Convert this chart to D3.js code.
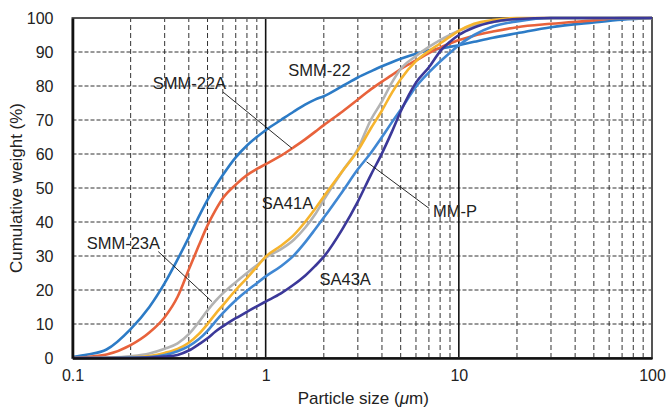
<!DOCTYPE html>
<html>
<head>
<meta charset="utf-8">
<script src="https://cdn.jsdelivr.net/npm/d3@7/dist/d3.min.js"></script>
<style>
  body { margin: 0; background: #fff; }
  text { font-family: "Liberation Sans", Arial, sans-serif; fill: #222; }
</style>
</head>
<body>
<div id="chart"></div>
<script>
// particle size grid (um) shared by all curves
var sizes = [0.1, 0.12, 0.15, 0.2, 0.25, 0.3, 0.35, 0.4, 0.45, 0.5, 0.55, 0.6, 0.7, 0.8, 0.9,
  1, 1.2, 1.4, 1.6, 1.8, 2, 2.5, 3, 3.5, 4, 4.5, 5, 6, 7, 8, 9,
  10, 12, 15, 20, 30, 50, 70, 100];

var smm22  = [0.3, 1, 2.5, 8.5, 15, 22, 29, 35.5, 41.5, 46.5, 50.5, 53.8, 59, 62.5, 65,
  67, 70, 72.5, 74.5, 76, 77, 80, 82.5, 84.3, 85.8, 87, 88, 89.5, 90.5, 91, 91.5,
  92, 93, 94.2, 95.5, 97.3, 98.7, 99.5, 100];
var smm22a = [0, 0.3, 1, 3.8, 7.5, 12, 18, 26, 33, 39, 43.5, 47, 51, 53.8, 55.6,
  57, 59.5, 62, 64.3, 66.5, 68.5, 72.5, 76, 79, 81.3, 83.2, 85, 87.5, 89.7, 91.3, 92.5,
  93.5, 94.8, 96, 97.3, 98.3, 99.3, 100, 100];
var smm23a = [0, 0, 0.1, 0.5, 1.3, 2.7, 4.3, 7, 10.5, 14, 16.8, 19, 22.3, 25, 27.3,
  29.5, 32, 34.8, 38.3, 42.2, 46.5, 55, 61.5, 70, 75.5, 81, 85, 88.8, 91.5, 93.5, 95,
  96.3, 97.8, 98.8, 99.6, 100, 100, 100, 100];
var sa41a  = [0, 0, 0, 0.2, 0.6, 1.5, 2.7, 4.5, 7, 10, 13, 15.5, 20, 23.5, 26.8,
  29.8, 33, 36.2, 40, 43.8, 47.5, 55, 61, 67.5, 72.8, 78, 82, 87.3, 90.3, 92.5, 94.5,
  96.2, 98.3, 99.4, 100, 100, 100, 100, 100];
var mmp    = [0, 0, 0, 0.1, 0.3, 0.9, 2, 3.5, 5.5, 8, 10.8, 13.2, 17, 19.8, 22,
  24, 27, 30.2, 34, 37.8, 41.3, 49, 55.5, 60.3, 65, 69.3, 73, 79.8, 84, 87.2, 89.8,
  92, 95, 97.5, 99, 100, 100, 100, 100];
var sa43a  = [0, 0, 0, 0, 0.1, 0.4, 0.9, 2.2, 4, 5.8, 7.8, 9.3, 11.7, 13.6, 15.2,
  16.6, 19, 21.6, 24.2, 27, 29.8, 38, 46, 53.8, 60.2, 66.5, 72.5, 81, 85.5, 90.2, 93,
  95, 97.2, 98.8, 99.7, 100, 100, 100, 100];

var seriesNames  = ["SMM-22", "SMM-22A", "SMM-23A", "SA41A", "MM-P", "SA43A"];
var seriesColors = ["#2c7bc6", "#e8623b", "#b3b3b3", "#f6b42e", "#3f87d3", "#3b3899"];
var seriesValues = [smm22, smm22a, smm23a, sa41a, mmp, sa43a];

var xTicks = [0.1, 1, 10, 100];
var yTicks = [0, 10, 20, 30, 40, 50, 60, 70, 80, 90, 100];

// curve labels: text anchor (size, %) and optional leader line
var labels = [
  {text: "SMM-22",  x: 1.31, y: 82.9},
  {text: "SMM-22A", x: 0.26, y: 79,   lx1: 0.602, ly1: 78.2, lx2: 1.367, ly2: 61.7},
  {text: "SMM-23A", x: 0.1184, y: 32, lx1: 0.278, ly1: 31.3, lx2: 0.527, ly2: 16.6},
  {text: "SA41A",   x: 0.955, y: 43.7},
  {text: "SA43A",   x: 1.90, y: 21.5},
  {text: "MM-P",    x: 7.36, y: 41.6, lx1: 7.02, ly1: 44, lx2: 3.33, ly2: 57.7}
];

var width = 670, height = 410;
var margin = {left: 72.5, right: 18, top: 18, bottom: 52};

var svg = d3.select("#chart").append("svg")
  .attr("width", width)
  .attr("height", height);

var x = d3.scaleLog().domain([0.1, 100]).range([margin.left, width - margin.right]);
var y = d3.scaleLinear().domain([0, 100]).range([height - margin.bottom, margin.top]);

// minor vertical gridlines (dashed)
var minor = [];
[0.1, 1, 10].forEach(function(base) {
  for (var k = 2; k <= 9; k++) minor.push(base * k);
});

svg.append("g").selectAll("line").data(minor).enter().append("line")
  .attr("x1", function(d) { return x(d); })
  .attr("x2", function(d) { return x(d); })
  .attr("y1", y(0)).attr("y2", y(100))
  .attr("stroke", "#333").attr("stroke-width", 1)
  .attr("stroke-dasharray", "5,3");

svg.append("g").selectAll("line").data(yTicks.slice(1, -1)).enter().append("line")
  .attr("x1", x(0.1)).attr("x2", x(100))
  .attr("y1", function(d) { return y(d); })
  .attr("y2", function(d) { return y(d); })
  .attr("stroke", "#333").attr("stroke-width", 1)
  .attr("stroke-dasharray", "4,2");

// solid decade lines
svg.append("g").selectAll("line").data([1, 10]).enter().append("line")
  .attr("x1", function(d) { return x(d); })
  .attr("x2", function(d) { return x(d); })
  .attr("y1", y(0)).attr("y2", y(100))
  .attr("stroke", "#111").attr("stroke-width", 1.6);

// frame
svg.append("rect")
  .attr("x", x(0.1)).attr("y", y(100))
  .attr("width", x(100) - x(0.1)).attr("height", y(0) - y(100))
  .attr("fill", "none").attr("stroke", "#555").attr("stroke-width", 2);

// curves
var line = d3.line()
  .x(function(d) { return x(d[0]); })
  .y(function(d) { return y(d[1]); })
  .curve(d3.curveMonotoneX);

seriesValues.forEach(function(vals, i) {
  svg.append("path")
    .datum(sizes.map(function(s, j) { return [s, vals[j]]; }))
    .attr("fill", "none")
    .attr("stroke", seriesColors[i])
    .attr("stroke-width", 2.6)
    .attr("stroke-linejoin", "round")
    .attr("d", line);
});

// axes
var xAxis = d3.axisBottom(x).tickValues(xTicks).tickSize(0).tickPadding(12)
  .tickFormat(function(d) { return String(d); });
var gx = svg.append("g").attr("transform", "translate(0," + y(0) + ")").call(xAxis);
gx.select(".domain").attr("stroke", "#111").attr("stroke-width", 2.6);
gx.selectAll("text").attr("font-size", 16).attr("fill", "#222")
  .attr("font-family", "Liberation Sans, Arial, sans-serif");

var yAxis = d3.axisLeft(y).tickValues(yTicks).tickSize(0).tickPadding(19);
var gy = svg.append("g").attr("transform", "translate(" + x(0.1) + ",0)").call(yAxis);
gy.select(".domain").attr("stroke", "#111").attr("stroke-width", 2.6);
gy.selectAll("text").attr("font-size", 16).attr("fill", "#222")
  .attr("font-family", "Liberation Sans, Arial, sans-serif");

// axis titles
var xt = svg.append("text")
  .attr("x", (x(0.1) + x(100)) / 2 + 1)
  .attr("y", 404)
  .attr("text-anchor", "middle")
  .attr("font-size", 17);
xt.append("tspan").text("Particle size (");
xt.append("tspan").attr("font-style", "italic").text("\u03bc");
xt.append("tspan").text("m)");

svg.append("text")
  .attr("transform", "translate(22," + ((y(0) + y(100)) / 2) + ") rotate(-90)")
  .attr("text-anchor", "middle")
  .attr("font-size", 17)
  .text("Cumulative weight (%)");

// labels + leaders
labels.forEach(function(l) {
  if (l.lx1) {
    svg.append("line")
      .attr("x1", x(l.lx1)).attr("y1", y(l.ly1))
      .attr("x2", x(l.lx2)).attr("y2", y(l.ly2))
      .attr("stroke", "#111").attr("stroke-width", 0.9);
  }
  svg.append("text")
    .attr("x", x(l.x)).attr("y", y(l.y))
    .attr("font-size", 16.5)
    .text(l.text);
});
</script>
</body>
</html>
